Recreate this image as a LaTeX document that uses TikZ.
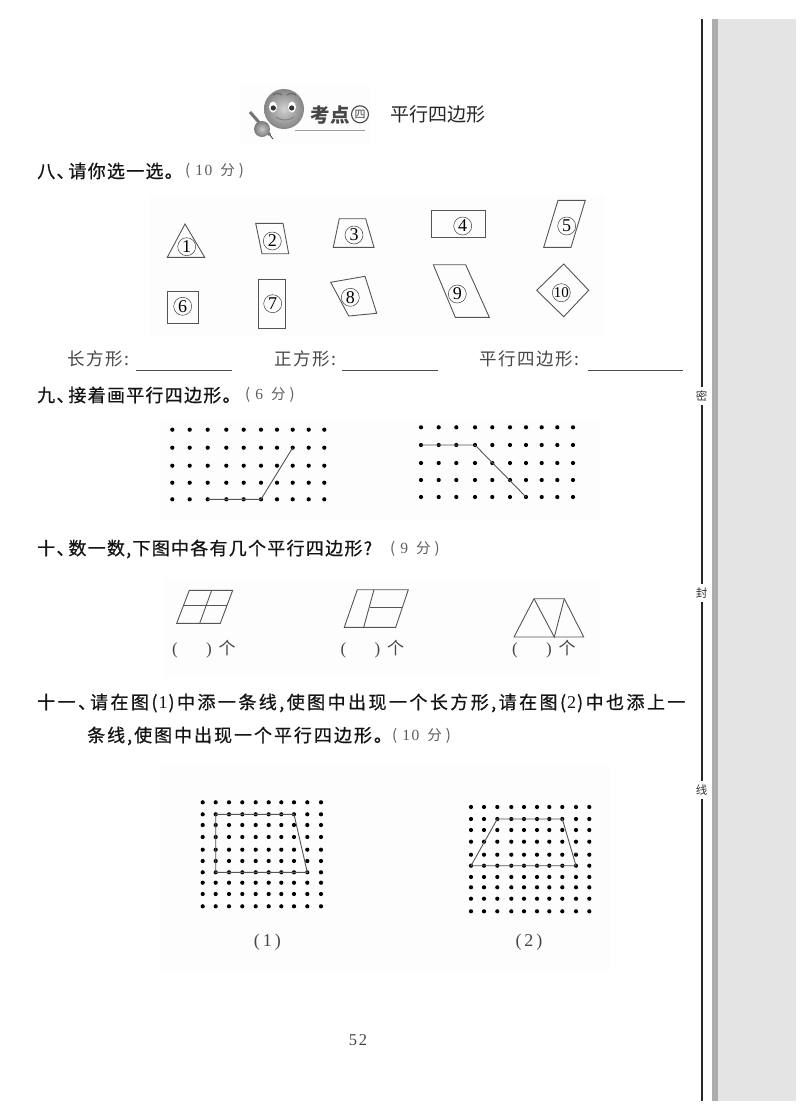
\documentclass[tikz,border=0pt]{standalone}
\usepackage{fontspec}
\setmainfont{Liberation Serif}
\newfontfamily\bodyf[LetterSpace=7,FakeBold=0.7]{Noto Sans CJK SC}
\newfontfamily\bodyw[LetterSpace=13.6,FakeBold=0.7]{Noto Sans CJK SC}
\newfontfamily\bodym[LetterSpace=11,FakeBold=0.7]{Noto Sans CJK SC}
\newfontfamily\plainf{Noto Sans CJK SC}
\newcommand\boldf{\plainf\bfseries}
\newfontfamily\labelf[LetterSpace=9]{Noto Sans CJK SC}
\newfontfamily\scoref[LetterSpace=10]{Liberation Serif}
\definecolor{lineg}{HTML}{555555}
\definecolor{scoreg}{HTML}{5E5E5E}
\definecolor{patch}{HTML}{FDFDFD}
\definecolor{sideband}{HTML}{ADADAD}
\definecolor{sidefill}{HTML}{E4E4E4}
\tikzset{
  shapeline/.style={draw=lineg,line width=0.9pt,line join=miter},
  gridline/.style={draw=lineg,line width=0.9pt},
  griddot/.style={circle,fill=black,inner sep=0pt,minimum size=4.2pt},
  numcircle/.style={circle,draw=black!75,line width=0.5pt,inner sep=0pt,minimum size=18pt,font=\fontsize{18pt}{18pt}\selectfont},
  head/.style={anchor=west,inner sep=0pt,font=\bodyf\fontsize{18pt}{18pt}\selectfont,text=black!92},
  score/.style={anchor=west,inner sep=0pt,text=scoreg,font=\fontsize{15.5pt}{16pt}\selectfont},
  answer/.style={anchor=west,inner sep=0pt,text=black!72,font=\labelf\fontsize{17.5pt}{18pt}\selectfont},
  blank/.style={draw=black!70,line width=0.7pt},
  cnt/.style={anchor=west,inner sep=0pt,text=black!72,font=\fontsize{17pt}{17pt}\selectfont},
  sidechar/.style={inner sep=0pt,text=black!80,font=\plainf\fontsize{11.5pt}{12pt}\selectfont}
}
\newcommand\dotgrid[3]{\foreach \x[count=\i] in {#2}{\foreach \y[count=\j] in {#3}{\node[griddot] (#1-\i-\j) at (\x,\y) {};}}}
\newcommand\scoretext[1]{{\plainf\fontsize{15pt}{15pt}\selectfont (}\kern5pt #1\kern8pt{\plainf\fontsize{14.5pt}{15pt}\selectfont 分}\kern4pt{\plainf\fontsize{15pt}{15pt}\selectfont )}}
\begin{document}
\begin{tikzpicture}[x=1pt,y=-1pt]
\useasboundingbox (0,0) rectangle (800,1120);
\fill[white] (0,0) rectangle (800,1120);
% faint scan patches
\fill[patch] (150,195) rectangle (605,335);
\fill[patch] (160,420) rectangle (600,520);
\fill[patch] (165,578) rectangle (600,678);
\fill[patch] (160,765) rectangle (610,970);
\fill[patch] (240,85) rectangle (370,145);
% side margin
\fill[sideband] (712,19) rectangle (718,1101);
\fill[sidefill] (718,19) rectangle (796,1101);
\node[sidechar] (mi) at (701.5,396) {密};
\node[sidechar] (fe) at (701.5,593) {封};
\node[sidechar] (xi) at (701.5,790) {线};
\draw[black!85,line width=2pt] (702,19) -- (702,387);
\draw[black!85,line width=2pt] (702,405) -- (702,584);
\draw[black!85,line width=2pt] (702,602) -- (702,781);
\draw[black!85,line width=2pt] (702,799) -- (702,1101);
% title emblem
\draw[black!38,line width=1.5pt] (295,130.7) -- (365,130.7);
\draw[black!55,line width=3pt] (250,112) -- (270,135);
\draw[black!80,line width=0.8pt] (270,135) -- (273,139);
\shade[inner color=black!22,outer color=black!52] (262,129) circle (8);
\shade[inner color=black!18,outer color=black!48] (284,109) circle (20);
\fill[white] (273,107) ellipse (4 and 5.5);
\fill[white] (292,107) ellipse (4 and 5.5);
\fill[black!80] (273.3,108) circle (2.6);
\fill[black!80] (291.7,108) circle (2.6);
\draw[black!60,line width=1pt] (273,95) .. controls (276,93) and (279,93) .. (282,95);
\draw[black!60,line width=1pt] (287,95) .. controls (290,93) and (293,93) .. (296,95);
\draw[black!50,line width=0.9pt] (276,117) .. controls (281,121) and (289,121) .. (294,117);
\node[inner sep=0pt,text=black!72,font=\boldf\fontsize{19.5pt}{20pt}\selectfont] (kd) at (330,115) {考点};
\node[circle,draw=black!72,line width=1.1pt,inner sep=0pt,minimum size=17pt,text=black!72,font=\plainf\fontsize{11pt}{11pt}\selectfont] (si) at (360,114.3) {四};
\node[anchor=west,inner sep=0pt,text=black!85,font=\plainf\fontsize{19pt}{19pt}\selectfont] (tt) at (390,114.5) {平行四边形};
% section 8
\node[head] (h8) at (37,171) {八、\kern-6pt请你选一选。};
\node[score] (s8) at (185,171) {\scoretext{1\kern1.5pt 0}};
\draw[shapeline] (185,224) -- (204.7,257.3) -- (167.3,257.3) -- cycle;
\draw[shapeline] (255.7,223.3) -- (283,223.3) -- (288.7,253.7) -- (262,253.7) -- cycle;
\draw[shapeline] (339.3,218.7) -- (365.7,218.7) -- (374,247.3) -- (333.3,247.3) -- cycle;
\draw[shapeline] (431.7,210.7) rectangle (485.3,237.3);
\draw[shapeline] (558,200.3) -- (585.3,200.3) -- (571,247.3) -- (543.7,247.3) -- cycle;
\draw[shapeline] (167.7,291.7) rectangle (198.7,323);
\draw[shapeline] (258.7,279.3) rectangle (285.3,328);
\draw[shapeline] (330.7,282.3) -- (365,276.3) -- (376.7,313.3) -- (348.7,316) -- cycle;
\draw[shapeline] (433.3,264.7) -- (465.7,264.7) -- (489.3,317.3) -- (455.3,317.3) -- cycle;
\draw[shapeline] (563.7,264) -- (588.7,290.3) -- (563.7,316.7) -- (536.7,290.3) -- cycle;
\node[numcircle] (n1) at (186.7,246.7) {1};
\node[numcircle] (n2) at (272.3,241) {2};
\node[numcircle] (n3) at (354,235) {3};
\node[numcircle] (n4) at (462.7,226) {4};
\node[numcircle] (n5) at (566.7,226) {5};
\node[numcircle] (n6) at (182.7,306.3) {6};
\node[numcircle] (n7) at (272.7,303.7) {7};
\node[numcircle] (n8) at (350.3,297.3) {8};
\node[numcircle] (n9) at (457.3,294) {9};
\node[numcircle,font=\fontsize{15pt}{15pt}\selectfont] (n10) at (561.3,292.7) {10};
\node[answer] (a1) at (67,359) {长方形:};
\node[answer] (a2) at (274,359) {正方形:};
\node[answer] (a3) at (479,359) {平行四边形:};
\draw[blank] (136,370) -- (232,370);
\draw[blank] (342,370) -- (438,370);
\draw[blank] (588,370) -- (683,370);
% section 9
\node[head] (h9) at (37,395) {九、\kern-6pt接着画平行四边形。};
\node[score] (s9) at (245,395) {\scoretext{6}};
\dotgrid{pl}{172.3,189.7,207.7,226.3,243.7,261,277,292.7,308.7,324.3}{429.7,447.7,465.7,482.7,499.3}
\dotgrid{pr}{421,438.7,456.3,475,492.3,510,526,541.7,557.3,573}{427.3,445,463,480,497}
\draw[gridline] (pl-3-5.center) -- (pl-6-5.center) -- (pl-8-2.center);
\draw[gridline] (pr-1-2.center) -- (pr-4-2.center) -- (pr-7-5.center);
% section 10
\node[head] (h10) at (37,549) {十、\kern-6pt数一数,下图中各有几个平行四边形?};
\node[score] (s10) at (390,549) {\scoretext{9}};
\draw[shapeline] (189.3,590.3) -- (232.7,590.3) -- (220.3,623.3) -- (176.7,623.3) -- cycle;
\draw[shapeline] (183.3,605) -- (226.7,605);
\draw[shapeline] (211.7,590.3) -- (199.7,623.3);
\draw[shapeline] (357.3,589.7) -- (408.3,589.7) -- (395.7,627.3) -- (344.3,627.3) -- cycle;
\draw[shapeline] (374,589.7) -- (363.7,627.3);
\draw[shapeline] (369.5,607.3) -- (401.7,607.3);
\draw[shapeline] (534,598.7) -- (564.3,598.7) -- (583.7,637) -- (514,637) -- cycle;
\draw[shapeline] (534,598.7) -- (554.3,637) -- (564.3,598.7);
\node[cnt] (c1) at (172,649) {(\hspace{28.3pt})\hspace{6.7pt}{\plainf 个}};
\node[cnt] (c2) at (340.5,649) {(\hspace{28.3pt})\hspace{6.7pt}{\plainf 个}};
\node[cnt] (c3) at (512,649.5) {(\hspace{28.3pt})\hspace{6.7pt}{\plainf 个}};
% section 11
\node[head,font=\bodyw\fontsize{18pt}{18pt}\selectfont] (h11) at (37,703) {十一、\kern-6pt请在图(\kern1pt{\fontspec{Liberation Serif}1}\kern1pt)中添一条线,使图中出现一个长方形,请在图(\kern1pt{\fontspec{Liberation Serif}2}\kern1pt)中也添上一};
\node[head,font=\bodym\fontsize{18pt}{18pt}\selectfont] (h11b) at (87,736) {条线,使图中出现一个平行四边形。};
\node[score] (s11) at (392,736) {\scoretext{1\kern1.5pt 0}};
\dotgrid{ql}{202.7,215.7,229,242.3,255.7,268.7,281.3,294,307.3,321}{802.3,814.3,825,837,849.7,861,872.3,882.7,894,906.3}
\dotgrid{qr}{471,484,497.3,511.3,524,537,549.3,562.3,576,589.3}{807,819,830,841.7,854.7,865.7,877,887.3,898.7,911.3}
\draw[gridline] (ql-2-2.center) -- (ql-8-2.center) -- (ql-9-7.center) -- (ql-2-7.center) -- cycle;
\draw[gridline] (qr-3-2.center) -- (qr-8-2.center) -- (qr-9-6.center) -- (qr-1-6.center) -- cycle;
\node[inner sep=0pt,text=black!72,font=\fontsize{18pt}{18pt}\selectfont] (f1) at (267.3,941.7) {(\,1\,)};
\node[inner sep=0pt,text=black!72,font=\fontsize{18pt}{18pt}\selectfont] (f2) at (529,941.7) {(\,2\,)};
\node[inner sep=0pt,text=black!72,font=\scoref\fontsize{16.5pt}{17pt}\selectfont] (pg) at (358,1040) {52};
\end{tikzpicture}
\end{document}
